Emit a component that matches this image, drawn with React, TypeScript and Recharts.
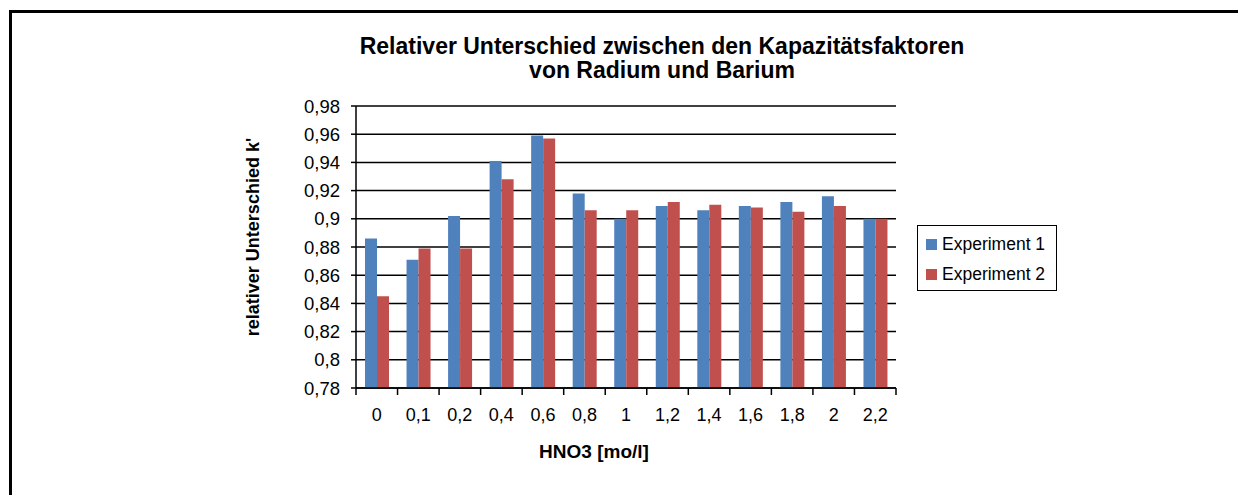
import { BarChart, Bar, XAxis, YAxis, CartesianGrid, Legend, Label } from "recharts";

const categories = ["0", "0,1", "0,2", "0,4", "0,6", "0,8", "1", "1,2", "1,4", "1,6", "1,8", "2", "2,2"];
const experiment1 = [0.886, 0.871, 0.902, 0.941, 0.959, 0.918, 0.9, 0.909, 0.906, 0.909, 0.912, 0.916, 0.9];
const experiment2 = [0.845, 0.879, 0.879, 0.928, 0.957, 0.906, 0.906, 0.912, 0.91, 0.908, 0.905, 0.909, 0.9];
const yTicks = [0.78, 0.8, 0.82, 0.84, 0.86, 0.88, 0.9, 0.92, 0.94, 0.96, 0.98];
const seriesNames = ["Experiment 1", "Experiment 2"];
const titleLines = ["Relativer Unterschied zwischen den Kapazitätsfaktoren", "von Radium und Barium"];

const COLORS = ["#4F81BD", "#C0504D"];
const FONT = "'Liberation Sans', Arial, sans-serif";
const TICK_GAP = 20;

const data = categories.map((name, i) => ({
  name,
  e1: experiment1[i],
  e2: experiment2[i],
}));

const fmt = (v: number) => String(v).replace(".", ",");

// category label plus an Excel-style tick mark on the group border
function CategoryTick(props: any) {
  const { x, y, payload, index, width, visibleTicksCount } = props;
  const half = width / (visibleTicksCount || categories.length) / 2;
  const axisY = y - TICK_GAP;
  return (
    <g>
      <line x1={x - half} x2={x - half} y1={axisY} y2={axisY + 7} stroke="#000" strokeWidth={1.5} />
      {index === categories.length - 1 && (
        <line x1={x + half} x2={x + half} y1={axisY} y2={axisY + 7} stroke="#000" strokeWidth={1.5} />
      )}
      <text x={x} y={y} dy="0.71em" textAnchor="middle" fontSize={18} fontFamily={FONT} fill="#000">
        {payload.value}
      </text>
    </g>
  );
}

function LegendBox() {
  return (
    <div
      style={{
        width: 138,
        height: 64,
        border: "1px solid #000",
        background: "#fff",
        fontFamily: FONT,
        fontSize: 17.5,
        color: "#000",
        boxSizing: "content-box",
      }}
    >
      {seriesNames.map((s, i) => (
        <div key={s} style={{ display: "flex", alignItems: "center", height: 33, paddingLeft: 8 }}>
          <span style={{ width: 11, height: 11, background: COLORS[i], marginRight: 5, marginTop: i === 0 ? 4 : -2 }} />
          <span style={{ marginTop: i === 0 ? 4 : -2 }}>{s}</span>
        </div>
      ))}
    </div>
  );
}

export default function App() {
  return (
    <div style={{ position: "absolute", left: 0, top: 0, width: 1238, height: 495, overflow: "hidden", background: "#fff" }}>
      {/* outer frame: only its top and left edges are inside the picture */}
      <svg width={1238} height={495} style={{ position: "absolute", left: 0, top: 0 }}>
        <path d="M10.5 495 V11.5 H1238" fill="none" stroke="#000" strokeWidth={3} />
      </svg>
      <div
        style={{
          position: "absolute",
          left: 262,
          top: 34,
          width: 800,
          textAlign: "center",
          fontFamily: FONT,
          fontWeight: "bold",
          fontSize: 23,
          lineHeight: "24px",
          color: "#000",
        }}
      >
        {titleLines.map((t) => (
          <div key={t}>{t}</div>
        ))}
      </div>
      <div style={{ position: "absolute", left: 0, top: 0 }}>
        <BarChart
          width={1238}
          height={495}
          data={data}
          margin={{ top: 106, right: 342, left: 0, bottom: 0 }}
          barSize={12}
          barGap={0}
        >
          <CartesianGrid vertical={false} stroke="#000" strokeWidth={1.5} />
          <XAxis
            dataKey="name"
            interval={0}
            tickLine={false}
            tickSize={0}
            tickMargin={TICK_GAP}
            axisLine={{ stroke: "#000", strokeWidth: 1.5 }}
            tick={<CategoryTick />}
            height={107}
          >
            <Label
              content={(p: any) => {
                const vb = p.viewBox;
                return (
                  <text
                    x={vb.x + vb.width / 2 - 32}
                    y={vb.y + 70}
                    textAnchor="middle"
                    fontFamily={FONT}
                    fontWeight="bold"
                    fontSize={19}
                    fill="#000"
                  >
                    HNO3 [mo/l]
                  </text>
                );
              }}
            />
          </XAxis>
          <YAxis
            domain={[0.78, 0.98]}
            ticks={yTicks}
            interval={0}
            tickFormatter={fmt}
            width={356}
            tickSize={5}
            tickMargin={11}
            tickLine={{ stroke: "#000", strokeWidth: 1.5 }}
            axisLine={{ stroke: "#000", strokeWidth: 1.5 }}
            tick={{ fontSize: 18.5, fill: "#000", fontFamily: FONT }}
          >
            <Label
              content={(p: any) => {
                const vb = p.viewBox;
                const cx = vb.x + 253;
                const cy = vb.y + vb.height / 2 - 10;
                return (
                  <text
                    x={cx}
                    y={cy}
                    transform={`rotate(-90 ${cx} ${cy})`}
                    textAnchor="middle"
                    dominantBaseline="central"
                    fontFamily={FONT}
                    fontWeight="bold"
                    fontSize={18}
                    fill="#000"
                  >
                    relativer Unterschied k'
                  </text>
                );
              }}
            />
          </YAxis>
          <YAxis
            yAxisId="right"
            orientation="right"
            width={0}
            tick={false}
            tickLine={false}
            axisLine={{ stroke: "#000", strokeWidth: 1.5 }}
          />
          <Legend
            layout="vertical"
            align="center"
            verticalAlign="middle"
            wrapperStyle={{ left: 917, top: 225, width: 140 }}
            content={() => <LegendBox />}
          />
          <Bar dataKey="e1" name={seriesNames[0]} fill={COLORS[0]} isAnimationActive={false} />
          <Bar dataKey="e2" name={seriesNames[1]} fill={COLORS[1]} isAnimationActive={false} />
        </BarChart>
      </div>
    </div>
  );
}
